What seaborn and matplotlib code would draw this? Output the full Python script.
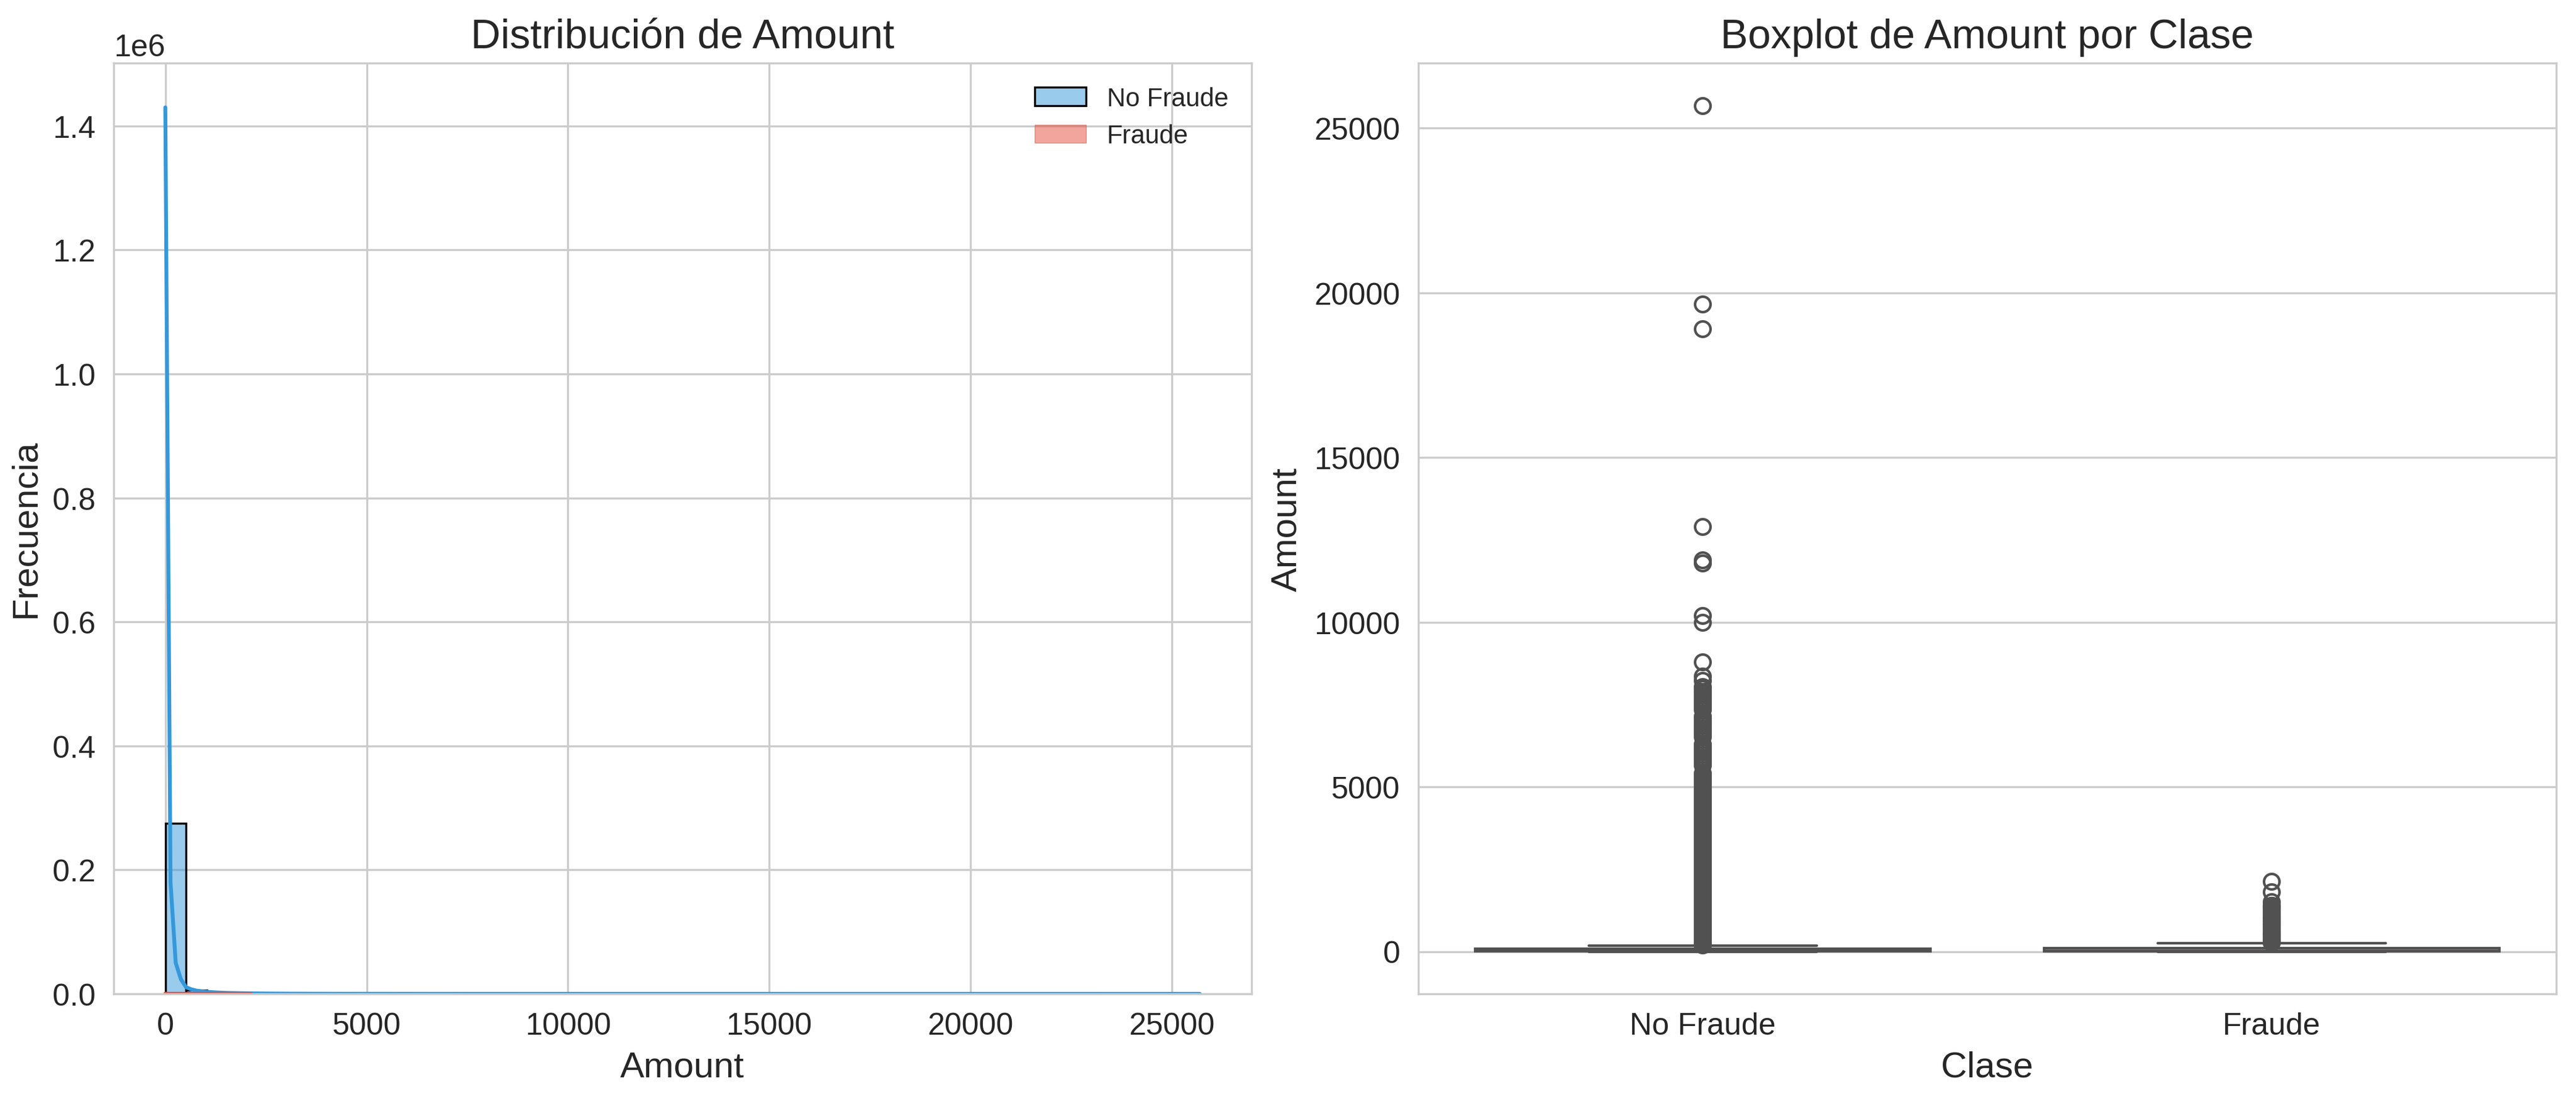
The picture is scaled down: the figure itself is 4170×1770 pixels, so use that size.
import matplotlib

matplotlib.use("Agg")
import matplotlib.pyplot as plt
import numpy as np
import pandas as pd
import seaborn as sns
from matplotlib.colors import to_rgba
from matplotlib.patches import Patch

BLUE = "#3498db"
RED = "#e74c3c"

# --- left panel: histogram counts, 50 bins from 0 to the max amount of each class
nf_amount_max = 25691.16
f_amount_max = 2125.87
nf_counts = [275600, 5550, 1750, 560, 210, 95, 50, 30, 20, 12,
             8, 6, 5, 4, 3, 2, 1, 1, 0, 2,
             0, 0, 1, 1, 0, 1, 0, 0, 0, 0,
             0, 0, 0, 0, 0, 0, 1, 0, 1, 0,
             0, 0, 0, 0, 0, 0, 0, 0, 0, 1]
f_counts = [269, 30, 25, 20, 15, 15, 12, 10, 10, 8,
            8, 7, 6, 5, 5, 5, 4, 4, 3, 3,
            3, 3, 2, 2, 2, 2, 2, 1, 1, 1,
            2, 1, 1, 1, 1, 0, 1, 1, 0, 0,
            0, 0, 0, 0, 0, 0, 0, 0, 0, 1]

# kde curves on the count scale
nf_kde_x = [0, 129, 258, 387, 516, 645, 775, 904, 1033, 1291, 1549, 2066,
            2582, 3099, 4132, 5165, 7748, 10331, 12914, 15496, 18079, 20662,
            23245, 25691]
nf_kde_y = [1430000, 180000, 50000, 23500, 10700, 7300, 5200, 4000, 3200,
            2200, 1500, 800, 500, 300, 150, 100, 40, 20, 15, 10, 8, 5, 3, 0]
f_kde_x = [0, 43, 85, 170, 340, 510, 850, 1275, 1700, 2126]
f_kde_y = [220, 120, 60, 40, 25, 15, 8, 4, 2, 1]

# --- right panel: box summaries (min, q1, median, q3, upper whisker) + outliers
classes = ["No Fraude", "Fraude"]
nf_box = [0.0, 5.6, 22.0, 77.05, 184.0]
f_box = [0.0, 1.0, 9.25, 105.89, 262.0]
box_weights = [1000, 3000, 2000, 2000, 500]

nf_outliers = [
    25691.16, 19656.53, 18910.0, 12910.93, 11898.09, 11789.84, 10199.44,
    10000.0, 8790.26, 8360.0, 8230.0,
    8050, 7980, 7900, 7850, 7780, 7712, 7650, 7580, 7520, 7460, 7400, 7350,
    7150, 7100, 7040, 6980, 6900, 6850, 6780, 6720, 6650, 6600, 6520,
    6300, 6250, 6180, 6100, 6050, 5980, 5900, 5850, 5780, 5720, 5660,
    5420, 5380, 5330, 5280, 5230, 5180, 5130, 5080, 5030, 4980, 4930,
    4880, 4830, 4780, 4730, 4680, 4630, 4580, 4530, 4480, 4430, 4380,
    4330, 4280, 4230, 4180, 4130, 4080, 4030, 3980, 3930, 3880, 3830,
    3780, 3730, 3680, 3630, 3580, 3530, 3480, 3430, 3380, 3330, 3280,
    3230, 3180, 3130, 3080, 3030, 2980, 2930, 2880, 2830, 2780, 2730,
    2680, 2630, 2580, 2530, 2480, 2430, 2380, 2330, 2280, 2230, 2180,
    2130, 2080, 2030, 1980, 1930, 1880, 1830, 1780, 1730, 1680, 1630,
    1580, 1530, 1480, 1430, 1380, 1330, 1280, 1230, 1180, 1130, 1080,
    1030, 980, 930, 880, 830, 780, 730, 680, 630, 580, 530, 480, 430,
    380, 330, 280, 230, 190,
]
f_outliers = [
    2125.87, 1809.68, 1504.93, 1402.16, 1389.56, 1354.25, 1335.0, 1300.0,
    1260.0, 1218.89, 1180.0, 1130.0, 1096.99, 1050.0, 1017.0, 996.0, 950.0,
    925.0, 889.0, 850.0, 829.0, 790.0, 766.0, 723.0, 690.0, 634.0, 600.0,
    560.0, 529.0, 512.0, 480.0, 454.0, 420.0, 390.0, 362.0, 340.0, 310.0,
    290.0, 270.0,
]


def hist_frame(counts, amount_max):
    edges = np.linspace(0, amount_max, len(counts) + 1)
    centers = (edges[:-1] + edges[1:]) / 2
    return pd.DataFrame({"Amount": centers, "n": counts})


def box_frame():
    parts = []
    for label, box, outl in [("No Fraude", nf_box, nf_outliers),
                             ("Fraude", f_box, f_outliers)]:
        vals = np.concatenate([np.repeat(box, box_weights), outl])
        parts.append(pd.DataFrame({"Clase": label, "Amount": vals}))
    return pd.concat(parts, ignore_index=True)


def main() -> None:
    sns.set_style("whitegrid")
    plt.rcParams["font.family"] = ["Liberation Sans", "DejaVu Sans"]
    plt.rcParams["xtick.labelsize"] = 12
    plt.rcParams["ytick.labelsize"] = 12

    fig, (ax1, ax2) = plt.subplots(1, 2, figsize=(13.9, 5.9033), dpi=300)
    fig.subplots_adjust(left=0.0441, right=0.9923, bottom=0.0915,
                        top=0.9418, wspace=0.1466)

    nf_hist = hist_frame(nf_counts, nf_amount_max)
    f_hist = hist_frame(f_counts, f_amount_max)
    sns.histplot(data=nf_hist, x="Amount", weights="n", bins=50,
                 binrange=(0, nf_amount_max), color=BLUE, alpha=0.5,
                 edgecolor="black", linewidth=0.8, ax=ax1)
    sns.histplot(data=f_hist, x="Amount", weights="n", bins=50,
                 binrange=(0, f_amount_max), color=RED, alpha=0.5, ax=ax1)
    sns.lineplot(x=nf_kde_x, y=nf_kde_y, color=BLUE, linewidth=1.5,
                 estimator=None, ax=ax1)
    sns.lineplot(x=f_kde_x, y=f_kde_y, color=RED, linewidth=1.5,
                 estimator=None, ax=ax1)
    ax1.set_title("Distribución de Amount", fontsize=16)
    ax1.set_xlabel("Amount", fontsize=14)
    ax1.set_ylabel("Frecuencia", fontsize=14)
    handles = [
        Patch(facecolor=to_rgba(BLUE, 0.5), edgecolor="black", linewidth=0.8),
        Patch(facecolor=to_rgba(RED, 0.5), edgecolor=to_rgba(RED, 0.6),
              linewidth=0.3),
    ]
    ax1.legend(handles, ["No Fraude", "Fraude"], loc="upper right",
               fontsize=10, frameon=False)

    sns.boxplot(data=box_frame(), x="Clase", y="Amount", hue="Clase",
                order=classes, palette=[BLUE, RED], legend=False, ax=ax2)
    ax2.set_title("Boxplot de Amount por Clase", fontsize=16)
    ax2.set_xlabel("Clase", fontsize=14)
    ax2.set_ylabel("Amount", fontsize=14)

    fig.savefig("out.png", dpi=300)


if __name__ == "__main__":
    main()
